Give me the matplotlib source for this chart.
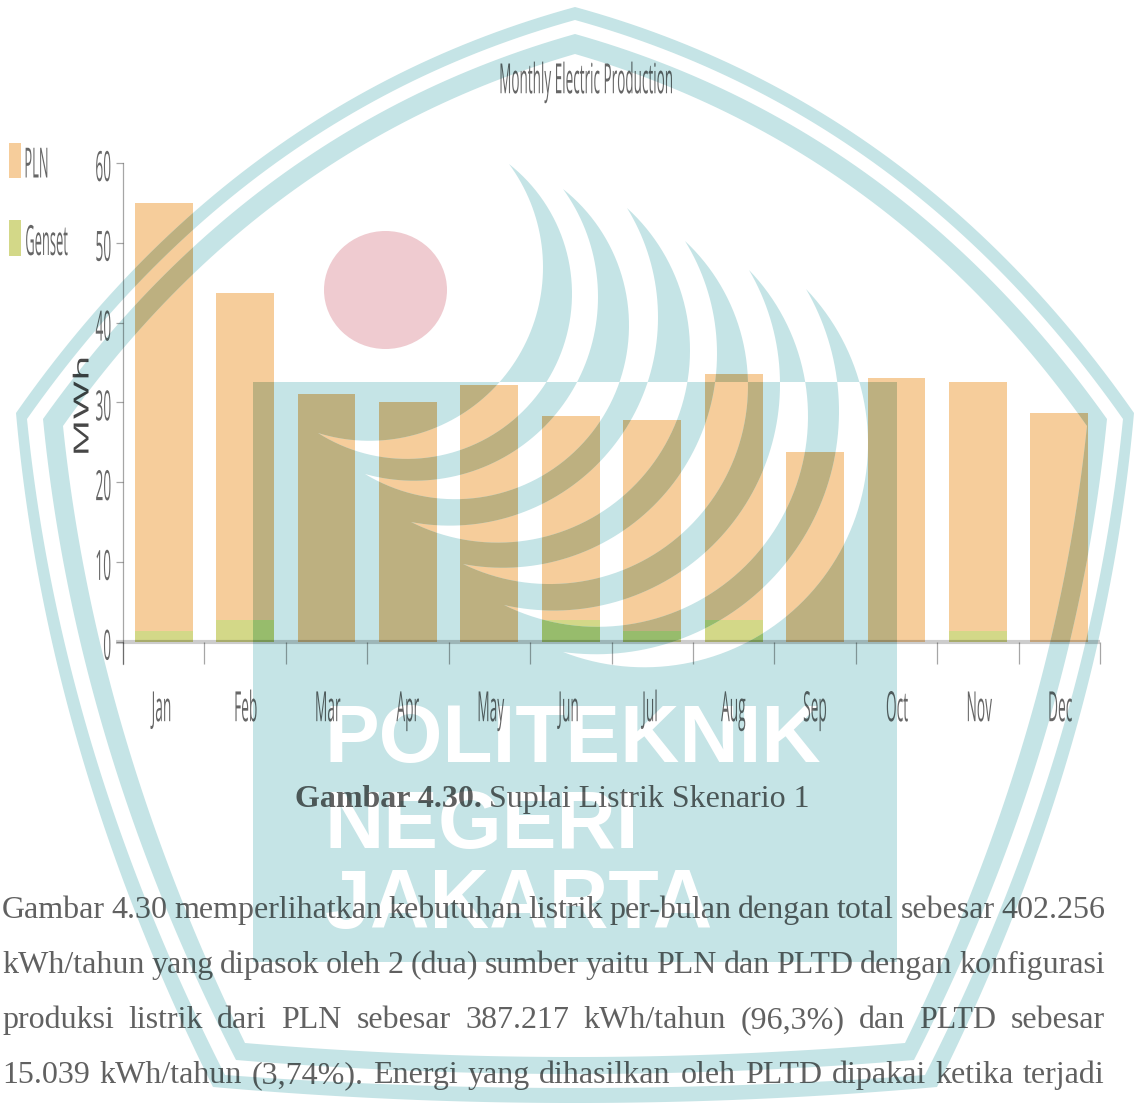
import numpy as np
import matplotlib
matplotlib.use('Agg')
import matplotlib.pyplot as plt
import matplotlib.patheffects as pe
from matplotlib.path import Path
from matplotlib.patches import PathPatch, Ellipse, Rectangle
from matplotlib.transforms import Affine2D

# datos (MWh)
months = ['Jan', 'Feb', 'Mar', 'Apr', 'May', 'Jun', 'Jul', 'Aug', 'Sep', 'Oct', 'Nov', 'Dec']
genset = [1.3, 2.7, 0, 0, 0, 2.7, 1.3, 2.7, 0, 0, 1.3, 0]
pln = [53.7, 41.0, 31.0, 30.1, 32.2, 25.6, 26.5, 30.9, 23.8, 33.1, 31.3, 28.7]
yticks = [0, 10, 20, 30, 40, 50, 60]

title = 'Monthly Electric Production'
caption_bold = 'Gambar 4.30.'
caption_rest = 'Suplai Listrik Skenario 1'
body = ['Gambar 4.30 memperlihatkan kebutuhan listrik per-bulan dengan total sebesar 402.256',
        'kWh/tahun yang dipasok oleh 2 (dua) sumber yaitu PLN dan PLTD dengan konfigurasi',
        'produksi listrik dari PLN sebesar 387.217 kWh/tahun (96,3%) dan PLTD sebesar',
        '15.039 kWh/tahun (3,74%). Energi yang dihasilkan oleh PLTD dipakai ketika terjadi']

ORANGE, GREEN = '#f6cd9b', '#d3d888'
ORANGE_OV, GREEN_OV = '#bdb080', '#97bc6c'
TEAL = '#c5e4e6'
W, H = 1134, 1103

# marca de agua, en pixeles de la imagen
# puntas de las medialunas: arriba, abajo, x maxima del borde exterior e interior
crescents = [((509, 164), (318, 433), 572, 543),
             ((563, 189), (365, 474), 629, 598),
             ((627, 208), (411, 522), 690, 658),
             ((685, 241), (463, 564), 748, 717),
             ((749, 270), (504, 605), 808, 780),
             ((806, 289), (563, 652), 868, 839)]
# anillo: apice y, control, esquina izq, control, esquina inf, y abajo
ring = [(7, (235, 100), (16, 413), (46, 752), (213, 1087), 1103),
        (20, (243, 112), (27, 419), (60, 750), (225, 1075), 1088),
        (34, (252, 125), (43, 419), (75, 745), (236, 1060), 1074),
        (54, (262, 145), (63, 426), (95, 735), (245, 1043), 1057)]
CX = 575


class Squeeze(pe.AbstractPathEffect):
    # el grafico original esta aplastado en horizontal
    def __init__(self, sx, dy=0, anchor='center'):
        super().__init__()
        self.sx = sx
        self.dy = dy
        self.anchor = anchor

    def draw_path(self, renderer, gc, tpath, affine, rgbFace=None):
        box = tpath.get_extents()
        c = box.x1 if self.anchor == 'right' else (box.x0 + box.x1) / 2
        t = Affine2D().translate(-c, 0).scale(self.sx, 1).translate(c, 0) + affine + Affine2D().translate(0, self.dy)
        renderer.draw_path(gc, tpath, t, rgbFace)


def bez(p0, c, p1, n=60):
    t = np.linspace(0, 1, n)[:, None]
    return (1 - t) ** 2 * np.array(p0) + 2 * t * (1 - t) * np.array(c) + t ** 2 * np.array(p1)


def area(pts):
    x, y = pts[:, 0], pts[:, 1]
    return 0.5 * np.sum(x * np.roll(y, -1) - np.roll(x, -1) * y)


def orient(pts, sign):
    return pts if area(pts) * sign > 0 else pts[::-1]


def arc(top, bot, xmax, n=80):
    # circulo por las dos puntas con x maxima dada
    top, bot = np.array(top, float), np.array(bot, float)
    m = (top + bot) / 2
    half = np.linalg.norm(top - bot) / 2
    d = (bot - top) / (2 * half)
    nrm = np.array([-d[1], d[0]])
    if nrm[0] < 0:
        nrm = -nrm
    a = xmax - m[0]
    # cx + r = xmax, con centro = m - s * nrm
    A = 1 - nrm[0] ** 2
    B = -2 * a * nrm[0]
    C = half ** 2 - a ** 2
    s = (-B - np.sqrt(B ** 2 - 4 * A * C)) / (2 * A)
    c = m - s * nrm
    r = np.hypot(s, half)
    a0 = np.arctan2(*(top - c)[::-1])
    a1 = np.arctan2(*(bot - c)[::-1])
    if a1 < a0:
        a1 += 2 * np.pi
    ang = np.linspace(a0, a1, n)
    return np.c_[c[0] + r * np.cos(ang), c[1] + r * np.sin(ang)]


def ring_loop(r):
    y0, c1, left, c2, bl, yb = r
    half = np.vstack([bez((CX, y0), c1, left), bez(left, c2, bl), bez(bl, ((bl[0] + CX) / 2, yb), (CX, yb))])
    other = half[::-1].copy()
    other[:, 0] = 2 * CX - other[:, 0]
    return np.vstack([half, other[1:-1]])


loops = [orient(np.array([[253, 382], [897, 382], [897, 962], [253, 962]], float), 1)]
for top, bot, xo, xi in crescents:
    loops.append(orient(np.vstack([arc(top, bot, xo), arc(top, bot, xi)[::-1][1:-1]]), -1))
for i, r in enumerate(ring):
    loops.append(orient(ring_loop(r), 1 if i % 2 == 0 else -1))

verts, codes = [], []
for lp in loops:
    verts += list(lp) + [lp[0]]
    codes += [Path.MOVETO] + [Path.LINETO] * (len(lp) - 1) + [Path.CLOSEPOLY]
mask = Path(np.array(verts), codes)

plt.rcParams['font.family'] = ['Open Sans', 'DejaVu Sans']
fig = plt.figure(figsize=(W / 100, H / 100), dpi=100)
px = Affine2D().scale(1, -1).translate(0, H)

left, right, y0, y60, bottom = 123, 1100, 641.7, 163, 663.5
ax = fig.add_axes([left / W, (H - bottom) / H, (right - left) / W, (bottom - y60) / H])
ax.patch.set_alpha(0)
k = (y0 - y60) / 60
ax.set_xlim(0, 12)
ax.set_ylim(-(bottom - y0) / k, 60)

# barras apiladas
xs = np.arange(12) + 0.5
ax.bar(xs, genset, 0.71, color=GREEN, zorder=1)
ax.bar(xs, pln, 0.71, bottom=genset, color=ORANGE, zorder=1)

# marca de agua encima, y otra vez las barras recortadas con el color mezclado
ax.add_patch(PathPatch(mask, transform=px, fc=TEAL, ec='none', clip_on=False, zorder=2))
ax.add_patch(Ellipse((385.5, 290), 123, 118, transform=px, fc='#efcbd0', ec='none', clip_on=False, zorder=2))
b1 = ax.bar(xs, genset, 0.71, color=GREEN_OV, zorder=3)
b2 = ax.bar(xs, pln, 0.71, bottom=genset, color=ORANGE_OV, zorder=3)
for b in list(b1) + list(b2):
    b.set_clip_path(mask, px)

for txt, y, size in [('POLITEKNIK', 762, 59), ('NEGERI', 848, 59), ('JAKARTA', 928, 59.5)]:
    ax.text(325, y, txt, transform=px, family='Liberation Sans', weight='bold', fontsize=size,
            color='white', ha='left', va='baseline', zorder=4, clip_on=False)

# linea base
ax.plot([(116 - left) / (right - left) * 12, 12], [0, 0], color='black', alpha=0.2, lw=3, clip_on=False,
        solid_capstyle='butt', zorder=5)

# ejes
for s in ['top', 'right', 'bottom']:
    ax.spines[s].set_visible(False)
ax.spines['left'].set_color((0, 0, 0, 0.35))
ax.spines['left'].set_linewidth(0.9)
ax.spines['left'].set_zorder(7)
ax.xaxis.set_zorder(7)
ax.yaxis.set_zorder(7)
ax.set_xticks(np.arange(13), minor=True)
ax.set_xticks(xs)
ax.set_xticklabels(months)
ax.tick_params(axis='x', which='minor', direction='in', length=16, width=0.9, color=(0, 0, 0, 0.35))
ax.tick_params(axis='x', which='major', length=0, pad=18.5, labelsize=30, labelcolor=(0, 0, 0, 0.6))
ax.set_yticks(yticks)
ax.tick_params(axis='y', length=5, width=0.9, color=(0, 0, 0, 0.35), pad=2.5, labelsize=30, labelcolor=(0, 0, 0, 0.6))
for lab in ax.get_xticklabels():
    lab.set_path_effects([Squeeze(0.33)])
for lab in ax.get_yticklabels():
    lab.set_path_effects([Squeeze(0.33, dy=-2, anchor='right')])

ax.set_ylabel('MWh', fontsize=15, color=(0, 0, 0, 0.72), va='center', path_effects=[Squeeze(2.0)])
ax.yaxis.set_label_coords(83, H - 406, transform=Affine2D())

ax.text(586, 82, title, transform=px, fontsize=30, color=(0, 0, 0, 0.6), ha='center', va='center',
        path_effects=[Squeeze(0.325)], zorder=6, clip_on=False)

# leyenda
for y, h, col, name, xc in [(143, 35, ORANGE, 'PLN', 36.5), (220, 36, GREEN, 'Genset', 46)]:
    ax.add_patch(Rectangle((9, y), 12, h, transform=px, fc=col, ec='none', clip_on=False, zorder=6))
    ax.text(xc, y + h / 2 + 6, name, transform=px, fontsize=30, color=(0, 0, 0, 0.6), ha='center', va='center',
            path_effects=[Squeeze(0.31)], zorder=6, clip_on=False)

# texto de abajo, justificado a mano
serif = 'Liberation Serif'
rend = fig.canvas.get_renderer()
tcol = (0, 0, 0, 0.62)
t = ax.text(295, 807, caption_bold, transform=px, family=serif, weight='bold', fontsize=23, color=tcol,
            ha='left', va='baseline', zorder=6, clip_on=False)
w = t.get_window_extent(rend).width
ax.text(295 + w + 7, 807, caption_rest, transform=px, family=serif, fontsize=23, color=tcol,
        ha='left', va='baseline', zorder=6, clip_on=False)

for line, base in zip(body, [918, 973, 1028, 1083]):
    items = [ax.text(0, base, word, transform=px, family=serif, fontsize=23, color=tcol, ha='left',
                     va='baseline', zorder=6, clip_on=False) for word in line.split()]
    widths = [it.get_window_extent(rend).width for it in items]
    gap = (1103 - sum(widths)) / (len(items) - 1)
    x = 2
    for it, wd in zip(items, widths):
        it.set_x(x)
        x += wd + gap

fig.savefig('out.png', dpi=100)
